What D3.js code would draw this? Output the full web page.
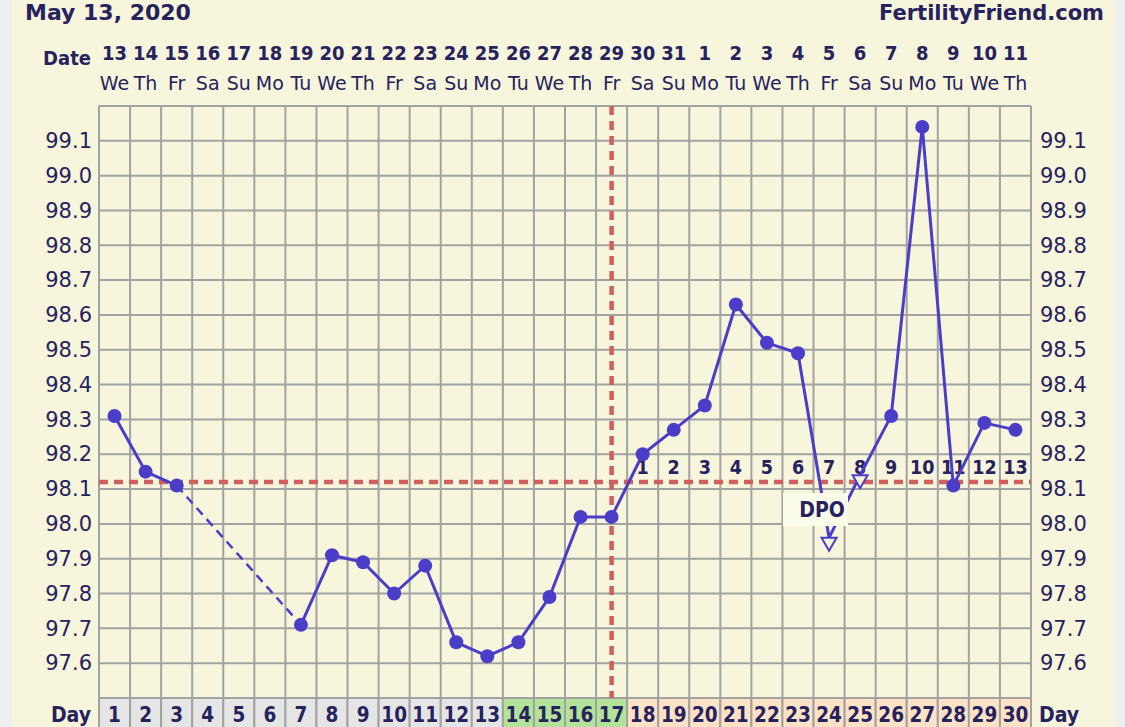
<!DOCTYPE html>
<html><head><meta charset="utf-8">
<script src="https://cdnjs.cloudflare.com/ajax/libs/d3/7.8.5/d3.min.js"></script>
<style>body{margin:0;background:#efefef;overflow:hidden}svg{display:block}</style>
</head><body><svg id="c" width="1125" height="727"></svg>
<script>
const days = d3.range(1, 31);
const dates = ["13","14","15","16","17","18","19","20","21","22","23","24","25","26","27","28","29","30","31","1","2","3","4","5","6","7","8","9","10","11"];
const weekdays = ["We","Th","Fr","Sa","Su","Mo","Tu","We","Th","Fr","Sa","Su","Mo","Tu","We","Th","Fr","Sa","Su","Mo","Tu","We","Th","Fr","Sa","Su","Mo","Tu","We","Th"];
const temps = [98.31,98.15,98.11,null,null,null,97.71,97.91,97.89,97.80,97.88,97.66,97.62,97.66,97.79,98.02,98.02,98.20,98.27,98.34,98.63,98.52,98.49,97.96,98.14,98.31,99.14,98.11,98.29,98.27];
const triangleDays = [24, 25];
const fertileDays = [14, 15, 16, 17];
const dpoDays = d3.range(18, 31);
const dpoLabels = d3.range(1, 14);
const coverline = 98.12;
const ovulationDay = 17;
const yTicks = [97.6,97.7,97.8,97.9,98.0,98.1,98.2,98.3,98.4,98.5,98.6,98.7,98.8,98.9,99.0,99.1];
const yGrid = [97.5].concat(yTicks, [99.2]);

const navy = "#26225e", purple = "#4a3ec9", red = "#d0605e", gridC = "#a2a2a2";
const svg = d3.select("#c");
const x0 = 99, x1 = 1031, yTop = 106, yBot = 698;
const x = d3.scaleBand().domain(days).range([x0, x1]);
const xc = d => x(d) + x.bandwidth() / 2;
const y = d3.scaleLinear().domain([97.5, 99.2]).range([yBot, yTop]);

svg.append("rect").attr("x", 12).attr("y", 0).attr("width", 1103).attr("height", 727).attr("fill", "#f7f5dc");

// title
svg.append("text").attr("x", 25).attr("y", 20).text("May 13, 2020")
  .attr("font-family", "DejaVu Sans").attr("font-weight", "bold").attr("font-size", 22).attr("fill", navy);
svg.append("text").attr("x", 1104).attr("y", 20).attr("text-anchor", "end").text("FertilityFriend.com")
  .attr("font-family", "DejaVu Sans").attr("font-weight", "bold").attr("font-size", 21).attr("fill", navy);

// header
svg.append("text").attr("x", 91).attr("y", 65).attr("text-anchor", "end").text("Date")
  .attr("font-family", "DejaVu Sans Condensed").attr("font-weight", "bold").attr("font-size", 20).attr("fill", navy);
svg.append("g").selectAll("text").data(days).join("text")
  .attr("x", d => xc(d)).attr("y", 60).attr("text-anchor", "middle").text((d, i) => dates[i])
  .attr("font-family", "DejaVu Sans Condensed").attr("font-weight", "bold").attr("font-size", 20).attr("fill", navy);
svg.append("g").selectAll("text").data(days).join("text")
  .attr("x", d => xc(d)).attr("y", 90).attr("text-anchor", "middle").text((d, i) => weekdays[i])
  .attr("font-family", "DejaVu Sans").attr("font-size", 19).attr("fill", navy);

// day row
const dayRow = svg.append("g");
dayRow.selectAll("rect").data(days).join("rect")
  .attr("x", d => x(d)).attr("y", yBot).attr("width", x.bandwidth()).attr("height", 40)
  .attr("fill", d => fertileDays.includes(d) ? "#b3e398" : (d >= 18 ? "#fde2c6" : "#e5e5e5"))
  .attr("stroke", gridC).attr("stroke-width", 2);
dayRow.selectAll("text").data(days).join("text")
  .attr("x", d => xc(d)).attr("y", 722).attr("text-anchor", "middle").text(d => d)
  .attr("font-family", "DejaVu Sans Condensed").attr("font-weight", "bold").attr("font-size", 20.5).attr("fill", navy);
svg.append("text").attr("x", 91).attr("y", 722).attr("text-anchor", "end").text("Day")
  .attr("font-family", "DejaVu Sans Condensed").attr("font-weight", "bold").attr("font-size", 21).attr("fill", navy);
svg.append("text").attr("x", 1039).attr("y", 722).text("Day")
  .attr("font-family", "DejaVu Sans Condensed").attr("font-weight", "bold").attr("font-size", 21).attr("fill", navy);

// grid
const grid = svg.append("g").attr("stroke", gridC).attr("stroke-width", 2);
grid.selectAll("line.h").data(yGrid).join("line").attr("class", "h")
  .attr("x1", x0).attr("x2", x1).attr("y1", d => y(d)).attr("y2", d => y(d));
grid.selectAll("line.v").data(d3.range(0, 31)).join("line").attr("class", "v")
  .attr("x1", i => x0 + i * x.bandwidth()).attr("x2", i => x0 + i * x.bandwidth())
  .attr("y1", yTop).attr("y2", yBot);

// y axes
function styleAxis(g) {
  g.select(".domain").remove();
  g.selectAll("text").attr("font-family", "DejaVu Sans").attr("font-size", 21).attr("fill", navy);
}
svg.append("g").attr("transform", `translate(${x0},0)`)
  .call(d3.axisLeft(y).tickValues(yTicks).tickFormat(d3.format(".1f")).tickSize(0).tickPadding(7)).call(styleAxis);
svg.append("g").attr("transform", `translate(${x1},0)`)
  .call(d3.axisRight(y).tickValues(yTicks).tickFormat(d3.format(".1f")).tickSize(0).tickPadding(9)).call(styleAxis);

// coverline & ovulation
svg.append("line").attr("x1", x0).attr("x2", x1).attr("y1", y(coverline)).attr("y2", y(coverline))
  .attr("stroke", red).attr("stroke-width", 4.5).attr("stroke-dasharray", "9,6");
svg.append("line").attr("x1", xc(ovulationDay)).attr("x2", xc(ovulationDay)).attr("y1", yTop).attr("y2", yBot)
  .attr("stroke", red).attr("stroke-width", 4.5).attr("stroke-dasharray", "9,6");

// DPO numbers
svg.append("g").selectAll("text").data(dpoDays).join("text")
  .attr("x", d => xc(d)).attr("y", 474).attr("text-anchor", "middle").text((d, i) => dpoLabels[i])
  .attr("font-family", "DejaVu Sans Condensed").attr("font-weight", "bold").attr("font-size", 19.5).attr("fill", navy);

// data
const pts = days.map((d, i) => ({d, v: temps[i]}));
const valid = pts.filter(p => p.v !== null);
const line = d3.line().x(p => xc(p.d)).y(p => y(p.v)).defined(p => p.v !== null);
const gaps = [];
for (let i = 1; i < valid.length; i++) if (valid[i].d - valid[i-1].d > 1) gaps.push([valid[i-1], valid[i]]);
svg.append("g").selectAll("path").data(gaps).join("path")
  .attr("d", g => d3.line().x(p => xc(p.d)).y(p => y(p.v))(g))
  .attr("fill", "none").attr("stroke", purple).attr("stroke-width", 2.5).attr("stroke-dasharray", "9,6");
svg.append("path").attr("d", line(pts)).attr("fill", "none").attr("stroke", purple).attr("stroke-width", 3);
svg.append("g").selectAll("circle").data(valid.filter(p => !triangleDays.includes(p.d))).join("circle")
  .attr("cx", p => xc(p.d)).attr("cy", p => y(p.v)).attr("r", 7).attr("fill", purple);

// DPO box
svg.append("rect").attr("x", 783).attr("y", 493).attr("width", 65).attr("height", 33).attr("fill", "#fbfbea");
svg.append("text").attr("x", 822).attr("y", 517).attr("text-anchor", "middle").text("DPO")
  .attr("font-family", "DejaVu Sans Condensed").attr("font-weight", "bold").attr("font-size", 21).attr("fill", navy);

// triangles
svg.append("g").selectAll("path").data(valid.filter(p => triangleDays.includes(p.d))).join("path")
  .attr("d", p => { const cx = xc(p.d), cy = y(p.v); return `M${cx-7.5},${cy}L${cx+7.5},${cy}L${cx},${cy+13}Z`; })
  .attr("fill", "#f7f5dc").attr("stroke", purple).attr("stroke-width", 2);
</script></body></html>
